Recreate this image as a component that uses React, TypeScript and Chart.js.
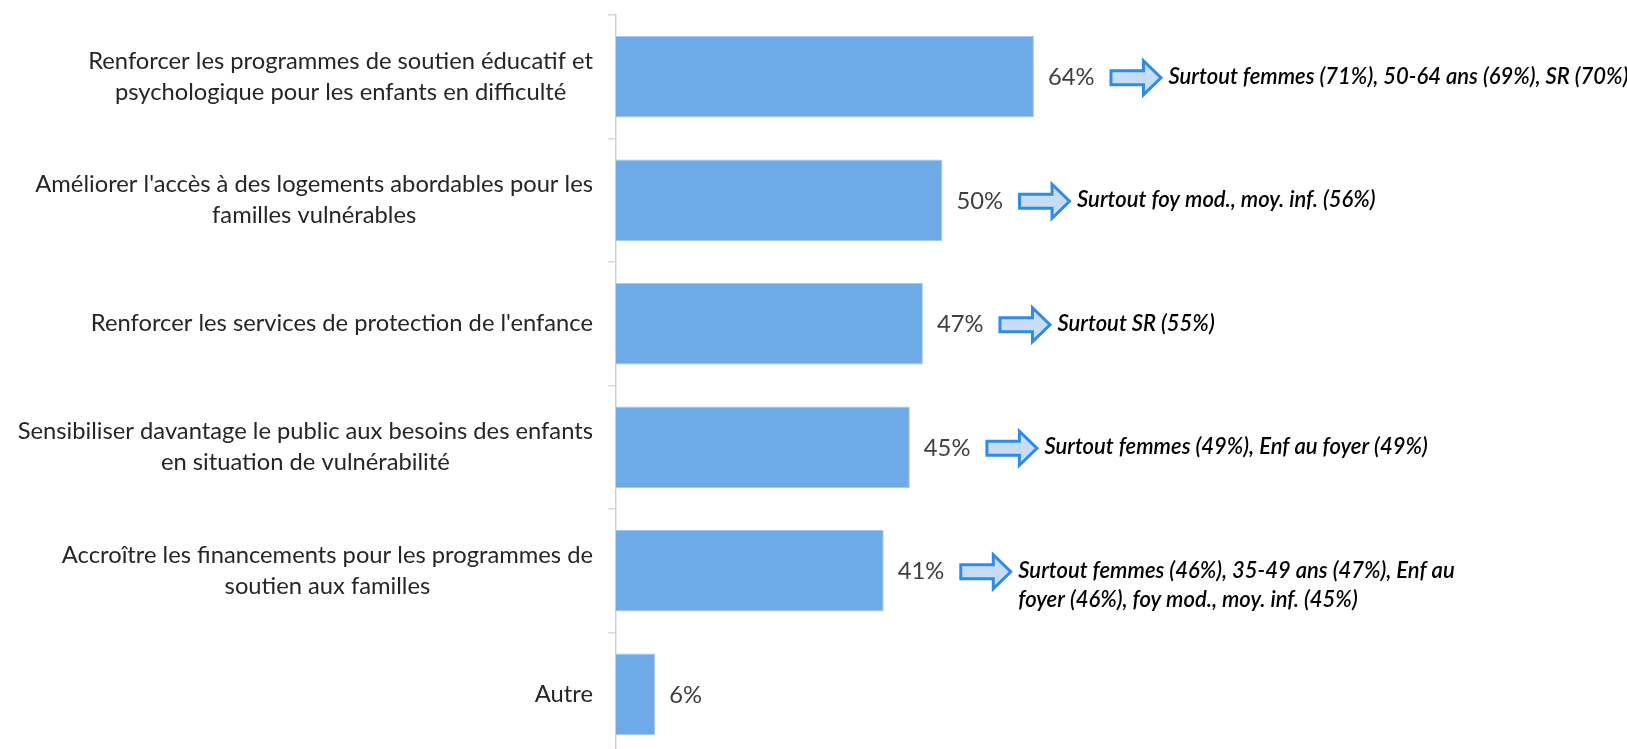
import React, { useEffect, useRef } from "react";
import { Chart, registerables } from "chart.js";

Chart.register(...registerables);

const categories: string[][] = [
  ["Renforcer les programmes de soutien éducatif et", "psychologique pour les enfants en difficulté"],
  ["Améliorer l'accès à des logements abordables pour les", "familles vulnérables"],
  ["Renforcer les services de protection de l'enfance"],
  ["Sensibiliser davantage le public aux besoins des enfants", "en situation de vulnérabilité"],
  ["Accroître les financements pour les programmes de", "soutien aux familles"],
  ["Autre"],
];
const values: number[] = [64, 50, 47, 45, 41, 6];
const valueLabels: string[] = ["64%", "50%", "47%", "45%", "41%", "6%"];
const notes: string[][] = [
  ["Surtout femmes (71%), 50-64 ans (69%), SR (70%)"],
  ["Surtout foy mod., moy. inf. (56%)"],
  ["Surtout SR (55%)"],
  ["Surtout femmes (49%), Enf au foyer (49%)"],
  ["Surtout femmes (46%), 35-49 ans (47%), Enf au", "foyer (46%), foy mod., moy. inf. (45%)"],
  [],
];

const FAMILY = "Lato, 'Open Sans', sans-serif";
const labelFontAt = (s: number) => `400 ${s}px ${FAMILY}`;
const noteFontAt = (s: number) => `italic 600 ${s}px ${FAMILY}`;

function fitSize(text: string, tpl: (s: number) => string, target: number): number {
  const c = document.createElement("canvas").getContext("2d")!;
  c.font = tpl(100);
  const w = c.measureText(text).width;
  return (100 * target) / w;
}

function drawArrow(ctx: CanvasRenderingContext2D, ax: number, cy: number) {
  const l = ax + 1.5;
  const tip = ax + 51.5;
  const hb = ax + 34;
  const sh = 7;
  const hh = 17;
  ctx.beginPath();
  ctx.moveTo(l, cy - sh);
  ctx.lineTo(hb, cy - sh);
  ctx.lineTo(hb, cy - hh);
  ctx.lineTo(tip, cy);
  ctx.lineTo(hb, cy + hh);
  ctx.lineTo(hb, cy + sh);
  ctx.lineTo(l, cy + sh);
  ctx.closePath();
  ctx.fillStyle = "#C7DDF6";
  ctx.fill();
  ctx.lineWidth = 3;
  ctx.lineJoin = "miter";
  ctx.strokeStyle = "#2F8BE6";
  ctx.stroke();
}

export default function App() {
  const ref = useRef<HTMLCanvasElement | null>(null);

  useEffect(() => {
    document.body.style.margin = "0";
    const labelSize = fitSize(categories[0][0], labelFontAt, 505);
    const noteSize = fitSize(notes[0][0], noteFontAt, 460);
    const labelFont = labelFontAt(labelSize);
    const noteFont = noteFontAt(noteSize);

    const annot = {
      id: "annot",
      afterDraw(chart: any) {
        const ctx: CanvasRenderingContext2D = chart.ctx;
        const xs = chart.scales.x;
        const ys = chart.scales.y;
        ctx.save();
        ctx.textBaseline = "middle";
        // category labels
        const right = chart.chartArea.left - 8 - 15;
        categories.forEach((lines, i) => {
          const yc = ys.getPixelForValue(i);
          ctx.font = labelFont;
          ctx.fillStyle = "#262626";
          ctx.textAlign = "center";
          const bw = Math.max(...lines.map((t) => ctx.measureText(t).width));
          const lh = 31;
          lines.forEach((t, k) => {
            const y = yc + (k - (lines.length - 1) / 2) * lh;
            ctx.fillText(t, right - bw / 2, y);
          });
        });
        // value labels, arrows, notes
        values.forEach((v, i) => {
          const xe = xs.getPixelForValue(v);
          const yc = ys.getPixelForValue(i);
          ctx.font = labelFont;
          ctx.fillStyle = "#404040";
          ctx.textAlign = "left";
          const lx = xe + 14;
          ctx.fillText(valueLabels[i], lx, yc + 1);
          const lw = ctx.measureText(valueLabels[i]).width;
          if (notes[i].length) {
            const ax = lx + lw + 15;
            drawArrow(ctx, ax, yc + 1);
            ctx.font = noteFont;
            ctx.fillStyle = "#000000";
            ctx.textAlign = "left";
            notes[i].forEach((t, k) => {
              ctx.fillText(t, ax + 59, yc + k * 29);
            });
          }
        });
        ctx.restore();
      },
    };

    const chart = new Chart(ref.current!, {
      type: "bar",
      data: {
        labels: categories.map((c) => c.join(" ")),
        datasets: [
          {
            data: values,
            backgroundColor: "#6FAAE8",
            borderColor: "#A3C9F1",
            borderWidth: 1,
            categoryPercentage: 0.66,
            barPercentage: 1,
          },
        ],
      },
      options: {
        animation: false,
        responsive: false,
        indexAxis: "y",
        layout: { padding: { top: 15, bottom: 14, left: 0, right: 358 } },
        plugins: { legend: { display: false }, tooltip: { enabled: false } },
        scales: {
          x: { display: false, min: 0, max: 100 },
          y: {
            afterFit: (s: any) => {
              s.width = 616;
            },
            grid: {
              drawOnChartArea: false,
              drawTicks: true,
              tickLength: 8,
              color: "#D9D9D9",
              lineWidth: 1.5,
            },
            border: { color: "#D0D0D0", width: 1.5 },
            ticks: { display: false },
          },
        },
      },
      plugins: [annot],
    });
    return () => chart.destroy();
  }, []);

  return (
    <div
      style={{
        position: "fixed",
        left: 0,
        top: 0,
        width: 1627,
        height: 749,
        overflow: "hidden",
        background: "#ffffff",
      }}
    >
      <canvas ref={ref} width={1627} height={770} style={{ display: "block" }} />
    </div>
  );
}
